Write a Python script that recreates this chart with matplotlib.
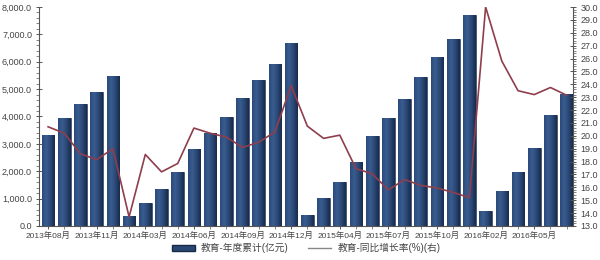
import matplotlib
matplotlib.use("Agg")
import matplotlib.pyplot as plt
import numpy as np
from matplotlib.ticker import FuncFormatter, AutoMinorLocator, MultipleLocator
from matplotlib.lines import Line2D
from matplotlib.patches import Patch
from matplotlib.colors import LinearSegmentedColormap

plt.rcParams['font.family'] = ['Liberation Sans', 'Noto Sans CJK SC', 'DejaVu Sans']

# months (Jan is merged into Feb in the source statistics)
months = ["2013年08月", "2013年09月", "2013年10月", "2013年11月", "2013年12月",
          "2014年02月", "2014年03月", "2014年04月", "2014年05月", "2014年06月",
          "2014年07月", "2014年08月", "2014年09月", "2014年10月", "2014年11月",
          "2014年12月",
          "2015年02月", "2015年03月", "2015年04月", "2015年05月", "2015年06月",
          "2015年07月", "2015年08月", "2015年09月", "2015年10月", "2015年11月",
          "2015年12月",
          "2016年02月", "2016年03月", "2016年04月", "2016年05月", "2016年06月",
          "2016年07月"]

# 教育-年度累计 (亿元)
cumulative = [3333, 3945, 4458, 4897, 5483,
              355, 853, 1355, 1989, 2809, 3395, 3981, 4677, 5322, 5908, 6667,
              414, 1015, 1623, 2333, 3297, 3930, 4640, 5432, 6165, 6838, 7692,
              560, 1282, 1989, 2857, 4066, 4824]

# 教育-同比增长率 (%)
growth = [20.7, 20.2, 18.6, 18.15, 19.0,
          13.7, 18.55, 17.2, 17.85, 20.6, 20.2, 19.9, 19.1, 19.5, 20.3, 23.9,
          20.75, 19.8, 20.05, 17.45, 17.05, 15.8, 16.6, 16.15, 15.95, 15.6, 15.2,
          30.0, 25.8, 23.5, 23.2, 23.75, 23.15]

label_idx = list(range(0, 31, 3))
tick_labels = [months[i] for i in label_idx]

bar_color = "#2a4874"
line_color = "#8e3e4c"
text_color = "#444444"
axis_color = "#555555"
grad = LinearSegmentedColormap.from_list("g", ["#2b4a7a", "#3a5d90", "#2a4775", "#182c4c"])

fig = plt.figure(figsize=(6, 2.6), dpi=100)
ax = fig.add_axes([0.065, 0.131, 0.8905, 0.842])
x = np.arange(len(months))

bars = ax.bar(x, cumulative, width=0.78, color=bar_color, edgecolor="#162a48", linewidth=0.4, zorder=2)
# horizontal gradient inside each bar
g = np.linspace(0, 1, 64).reshape(1, -1)
for b in bars:
    x0, y0 = b.get_x(), b.get_y()
    im = ax.imshow(g, cmap=grad, aspect='auto', zorder=2.5,
                   extent=[x0, x0 + b.get_width(), y0, y0 + b.get_height()])
    im.set_clip_path(b)
ax.set_xlim(-0.56, 32.41)
ax.set_ylim(0, 8000)

ax.yaxis.set_major_locator(MultipleLocator(1000))
ax.yaxis.set_minor_locator(AutoMinorLocator(5))
ax.yaxis.set_major_formatter(FuncFormatter(lambda v, p: "{:,.1f}".format(v)))
ax.set_xticks(label_idx)
ax.set_xticklabels(tick_labels)
ax.set_xticks(x, minor=True)

ax2 = ax.twinx()
ax2.plot(x, growth, color=line_color, linewidth=1.2, zorder=3)
ax2.set_ylim(13, 30)
ax2.yaxis.set_major_locator(MultipleLocator(1))
ax2.yaxis.set_minor_locator(AutoMinorLocator(5))
ax2.yaxis.set_major_formatter(FuncFormatter(lambda v, p: "{:.1f}".format(v)))

for a in (ax, ax2):
    a.spines['top'].set_visible(False)
    for s in ('left', 'right', 'bottom'):
        a.spines[s].set_color(axis_color)
        a.spines[s].set_linewidth(0.8)
    a.tick_params(axis='both', which='major', labelsize=6.5, colors=axis_color,
                  labelcolor=text_color, direction='inout', length=4, width=0.7, pad=3)
    a.tick_params(axis='both', which='minor', colors=axis_color, direction='out',
                  length=2, width=0.5)
ax.tick_params(axis='x', which='major', labelsize=6, pad=2)
ax.spines['right'].set_visible(False)
ax2.spines['left'].set_visible(False)
ax2.spines['bottom'].set_visible(False)

handles = [Patch(facecolor=bar_color, edgecolor="#162a48"),
           Line2D([0], [0], color="#888888", linewidth=1.0)]
fig.legend(handles, ["教育-年度累计(亿元)", "教育-同比增长率(%)(右)"],
           loc="center", bbox_to_anchor=(0.51, 0.045), ncol=2, frameon=False,
           fontsize=7, handlelength=2.4, handleheight=0.5, columnspacing=2.0,
           handletextpad=0.6, labelcolor=text_color)

fig.savefig("out.png", dpi=100)
